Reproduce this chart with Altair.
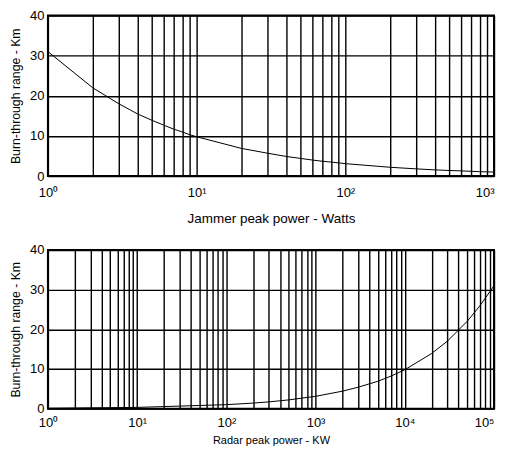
import altair as alt
import pandas as pd

# Top panel: burn-through range vs jammer peak power
jam_power = [1, 2, 3, 4, 5, 6, 7, 8, 9, 10, 20, 30, 40, 50, 60, 70, 80, 90,
             100, 200, 300, 400, 500, 600, 700, 800, 900, 1000]
jam_range = [31, 22, 18, 15.5, 13.9, 12.7, 11.7, 11, 10.3, 9.8, 6.9, 5.7, 4.9, 4.4, 4.0, 3.7, 3.5, 3.3,
             3.1, 2.2, 1.8, 1.55, 1.4, 1.3, 1.2, 1.1, 1.05, 1.0]

# Bottom panel: burn-through range vs radar peak power
radar_power = [1, 10, 100, 200, 300, 500, 1000, 2000, 3000, 5000, 7000,
               10000, 20000, 30000, 50000, 70000, 100000]
radar_range = [0.1, 0.31, 1.0, 1.4, 1.7, 2.2, 3.1, 4.4, 5.4, 6.9, 8.2,
               9.8, 13.9, 17, 22, 26, 31]

y_ticks = [0, 10, 20, 30, 40]
sup = {0: "⁰", 1: "¹", 2: "²", 3: "³", 4: "⁴", 5: "⁵"}


def grid_values(ndec):
    vals = []
    for k in range(ndec):
        for m in range(1, 10):
            vals.append(m * 10 ** k)
    vals.append(10 ** ndec)
    return vals


def label_expr(ndec):
    expr = "''"
    for k in range(ndec, -1, -1):
        expr = f"datum.value == {10 ** k} ? '10{sup[k]}' : ({expr})"
    return expr


FONT = "Liberation Sans"


def panel(xs, ys, ndec, xtitle, h, lab_pad, title_pad, title_size):
    df = pd.DataFrame({"p": xs, "r": ys})
    last = 10 ** ndec
    return alt.Chart(df).mark_line(color="black", strokeWidth=1).encode(
        x=alt.X("p:Q", scale=alt.Scale(type="log", domain=[1, last], nice=False),
                axis=alt.Axis(values=grid_values(ndec), labelExpr=label_expr(ndec),
                              title=xtitle, ticks=False, domain=False,
                              grid=True, gridColor="black", gridWidth=1.4, gridOpacity=1,
                              labelOverlap=False, labelFlush=False,
                              labelAlign={"condition": {"test": f"datum.value == {last}", "value": "right"},
                                          "value": "center"},
                              labelPadding=lab_pad, titlePadding=title_pad,
                              titleFontSize=title_size)),
        y=alt.Y("r:Q", scale=alt.Scale(domain=[0, 40], nice=False),
                axis=alt.Axis(values=y_ticks, title="Burn-through range - Km",
                              ticks=False, domain=False,
                              grid=True, gridColor="black", gridWidth=1.4, gridOpacity=1,
                              labelPadding=4, titlePadding=7, titleFontSize=12.3)),
    ).properties(width=447, height=h)


top = panel(jam_power, jam_range, 3, "Jammer peak power - Watts", 161, 10, 12, 13.5)
bottom = panel(radar_power, radar_range, 5, "Radar peak power - KW", 159, 8, 5, 11)

chart = alt.vconcat(top, bottom, spacing=74, bounds="flush").configure_view(
    stroke="black", strokeWidth=2
).configure_axis(
    labelFont=FONT, titleFont=FONT, labelFontSize=13,
    titleFontWeight="normal", labelColor="black", titleColor="black"
).properties(padding={"left": 0, "top": 0, "right": 0, "bottom": 0}, background="white")

chart.save("out.html", embed_options={"renderer": "svg", "actions": False})
